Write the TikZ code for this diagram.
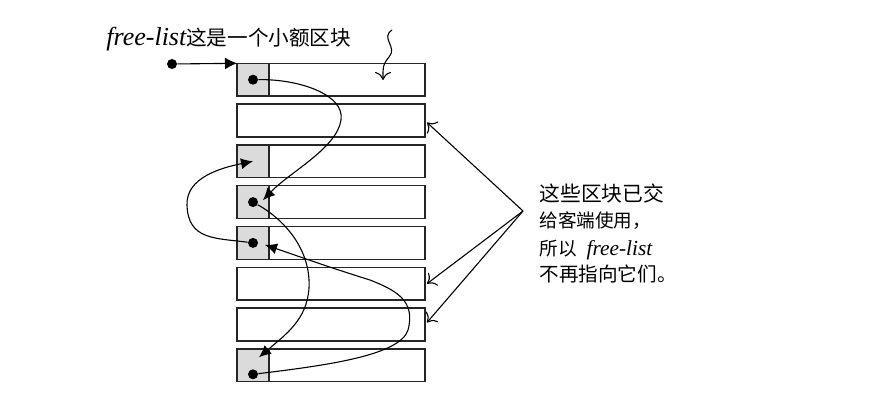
\documentclass[tikz,border=0pt]{standalone}
\usepackage{fontspec}
\setmainfont{Liberation Serif}
\newfontfamily\cjk{Noto Sans CJK SC}
\usetikzlibrary{arrows.meta}

\begin{document}
\begin{tikzpicture}
[x=0.5pt,y=-0.5pt,%
  blk/.style={draw=black!85,line width=0.7pt,minimum width=94pt,minimum height=16.4pt,inner sep=0pt,outer sep=0pt},%
  cell/.style={blk,fill=black!14,minimum width=16pt},%
  dot/.style={circle,fill,inner sep=0pt,minimum size=5pt},%
  txt/.style={anchor=base west,inner sep=0pt},%
  link/.style={line width=0.55pt,-{Latex[length=6pt,width=5.5pt]}},%
  give/.style={line width=0.55pt,-{To[length=4pt,width=8pt]}}]
\useasboundingbox (0,0) rectangle (882,401);
% the eight blocks
\foreach \i in {1,...,8}
  \node[blk] (b\i) at (331,{79.7+40.8*(\i-1)}) {};
\foreach \i in {1,3,4,5,8}
  \node[cell,anchor=west] (c\i) at (b\i.west) {};
\foreach \i/\s in {1/0,4/0,5/0,8/9}
  \node[dot] (d\i) at ([shift={(0,\s)}]c\i.center) {};
\coordinate (t3) at (c3.center);
\coordinate (t4) at ([shift={(10,-2)}]c4.center);
\coordinate (t5) at ([shift={(12,2)}]c5.center);
\coordinate (t8) at ([shift={(6,-8)}]c8.center);
% head of the list
\node[dot] (head) at (172,64) {};
\draw[line width=0.55pt,-{Latex[length=6pt,width=6pt]}] (head) -- (b1.north west);
\node[txt] (title) at (106,46)
  {\fontsize{13}{15}\selectfont\itshape free-list\upshape\cjk\fontsize{10.3}{12}\selectfont 这是一个小额区块};
\coordinate (sq) at (392,30);
\coordinate (sqend) at (383,80);
\draw[give] (sq) .. controls (380,38) and (398,47) .. (389,57) .. controls (382,65) and (383,70) .. (sqend);
% links between free blocks
\draw[link] (d1) .. controls (300,79) and (345,95) .. (341,120)
  .. controls (337,148) and (290,172) .. (t4);
\draw[link] (d4) .. controls (285,220) and (311,250) .. (309,288)
  .. controls (307,320) and (285,335) .. (t8);
\draw[link] (d8) .. controls (330,365) and (400,355) .. (408,330)
  .. controls (416,300) and (395,290) .. (370,280)
  .. controls (325,266) and (295,255) .. (t5);
\draw[link] (d5) .. controls (215,238) and (188,240) .. (187,205)
  .. controls (186,178) and (220,168) .. (t3);
% blocks given to clients
\coordinate (fan) at (523,211);
\draw[give] (fan) -- ([shift={(2,2)}]b2.east);
\draw[give] (fan) -- ([shift={(2,0)}]b6.east);
\draw[give] (fan) -- ([shift={(2,-2)}]b7.east);
\node[txt] (l1) at (539,201) {\cjk\fontsize{10.4}{12}\selectfont 这些区块已交};
\node[txt] (l2) at (539,227) {\cjk\fontsize{9.3}{11}\selectfont 给客端使用，};
\node[txt] (l3) at (539,255) {{\cjk\fontsize{9.3}{11}\selectfont 所以}\hspace{5pt}\fontsize{10.7}{12}\selectfont\itshape free-list};
\node[txt] (l4) at (539,281) {\cjk\fontsize{9.8}{12}\selectfont 不再指向它们。};
\end{tikzpicture}
\end{document}
